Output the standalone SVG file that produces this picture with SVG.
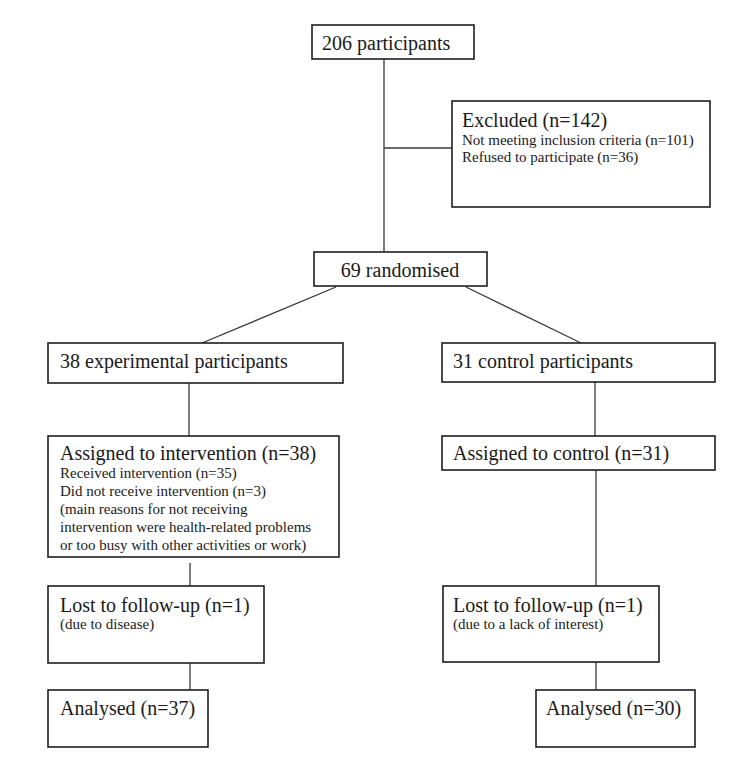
<svg xmlns="http://www.w3.org/2000/svg" width="750" height="760" viewBox="0 0 750 760">
<style>
.box{fill:#fff;stroke:#1e1e1e;stroke-width:1.6}
.ln{fill:none;stroke:#3a3a3a;stroke-width:1.3}
.t{font-family:"Liberation Serif","Times New Roman",serif;font-size:20px;fill:#1a1a1a}
.s{font-family:"Liberation Serif","Times New Roman",serif;font-size:15px;fill:#1a1a1a}
</style>
<rect width="750" height="760" fill="#fff"/>
<g id="connectors">
<line class="ln" x1="384" y1="59" x2="384" y2="252"/>
<line class="ln" x1="384" y1="148" x2="452" y2="148"/>
<line class="ln" x1="336" y1="287" x2="202" y2="343"/>
<line class="ln" x1="466" y1="287" x2="581" y2="343"/>
<line class="ln" x1="189" y1="383" x2="189" y2="436"/>
<line class="ln" x1="595" y1="382" x2="595" y2="436"/>
<line class="ln" x1="596" y1="470" x2="596" y2="586"/>
<line class="ln" x1="190" y1="563" x2="190" y2="586"/>
<line class="ln" x1="190" y1="656" x2="190" y2="690"/>
<line class="ln" x1="596" y1="656" x2="596" y2="690"/>
</g>
<g id="n_participants">
<rect class="box" x="312" y="25" width="162" height="34"/>
<text class="t" x="322" y="50">206 participants</text>
</g>
<g id="n_excluded">
<rect class="box" x="452" y="101" width="258" height="106"/>
<text class="t" x="462" y="127">Excluded (n=142)</text>
<text class="s" x="462" y="145">Not meeting inclusion criteria (n=101)</text>
<text class="s" x="462" y="162">Refused to participate (n=36)</text>
</g>
<g id="n_randomised">
<rect class="box" x="314" y="252" width="173" height="34"/>
<text class="t" x="400" y="277" text-anchor="middle">69 randomised</text>
</g>
<g id="n_experimental">
<rect class="box" x="48" y="343" width="295" height="40"/>
<text class="t" x="60" y="368">38 experimental participants</text>
</g>
<g id="n_control">
<rect class="box" x="442" y="343" width="273" height="39"/>
<text class="t" x="453" y="368">31 control participants</text>
</g>
<g id="n_assigned_intervention">
<rect class="box" x="48" y="436" width="291" height="121"/>
<text class="t" x="60" y="460">Assigned to intervention (n=38)</text>
<text class="s" x="60" y="478">Received intervention (n=35)</text>
<text class="s" x="60" y="496">Did not receive intervention (n=3)</text>
<text class="s" x="60" y="514">(main reasons for not receiving</text>
<text class="s" x="60" y="532">intervention were health-related problems</text>
<text class="s" x="60" y="550">or too busy with other activities or work)</text>
</g>
<g id="n_assigned_control">
<rect class="box" x="442" y="436" width="273" height="34"/>
<text class="t" x="453" y="460">Assigned to control (n=31)</text>
</g>
<g id="n_lost_left">
<rect class="box" x="48" y="586" width="216" height="77"/>
<text class="t" x="60" y="612">Lost to follow-up (n=1)</text>
<text class="s" x="60" y="629">(due to disease)</text>
</g>
<g id="n_lost_right">
<rect class="box" x="443" y="586" width="216" height="76"/>
<text class="t" x="453" y="612">Lost to follow-up (n=1)</text>
<text class="s" x="453" y="629">(due to a lack of interest)</text>
</g>
<g id="n_analysed_left">
<rect class="box" x="48" y="690" width="160" height="57"/>
<text class="t" x="60" y="715">Analysed (n=37)</text>
</g>
<g id="n_analysed_right">
<rect class="box" x="536" y="690" width="159" height="57"/>
<text class="t" x="546" y="715">Analysed (n=30)</text>
</g>
</svg>
